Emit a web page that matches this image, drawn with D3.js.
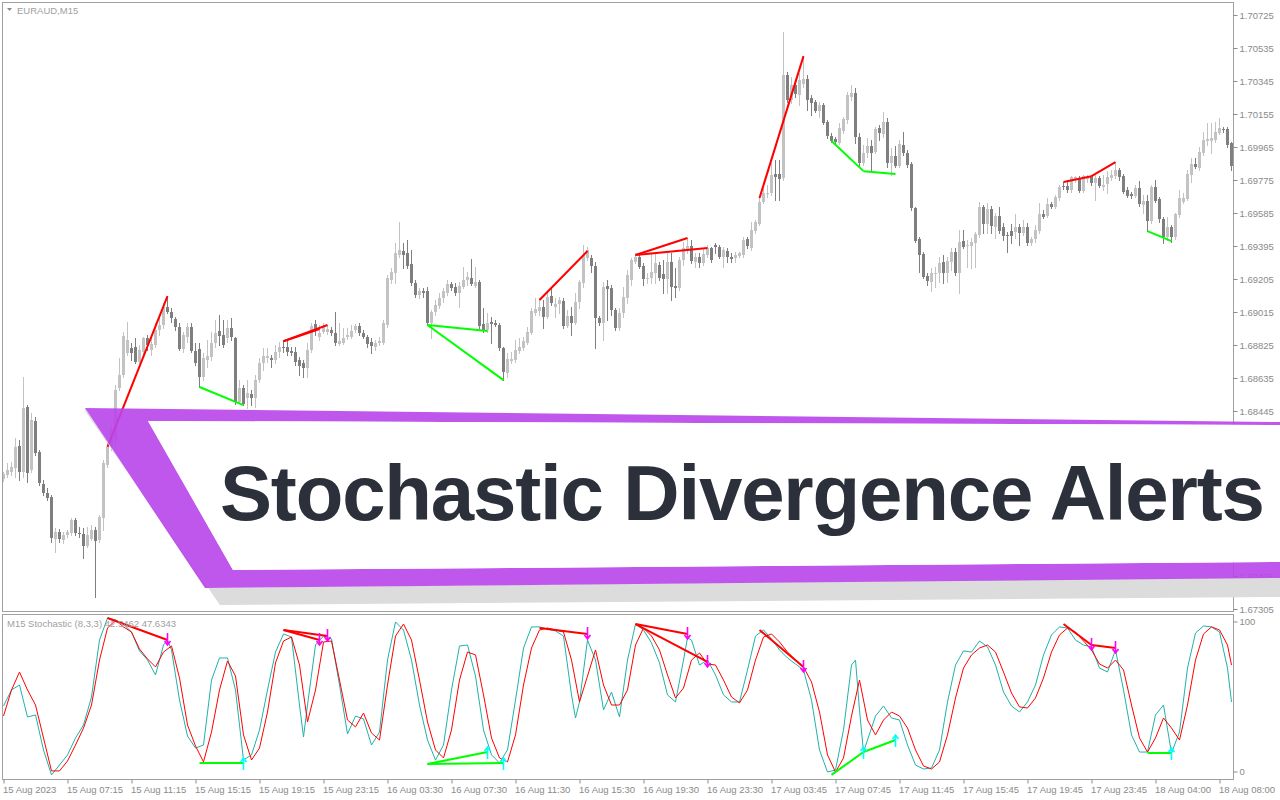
<!DOCTYPE html>
<html><head><meta charset="utf-8">
<script src="https://cdn.jsdelivr.net/npm/d3@7"></script>
<style>body{margin:0;background:#fff}svg{display:block}</style>
</head><body>
<svg id="c" width="1280" height="800"></svg>
<script>
const symbolLabel = "EURAUD,M15";
const stochLabel = "M15 Stochastic (8,3,3) 42.5462 47.6343";
const bannerText = "Stochastic Divergence Alerts";
const priceTicks = [1.70725,1.70535,1.70345,1.70155,1.69965,1.69775,1.69585,1.69395,1.69205,1.69015,1.68825,1.68635,1.68445,1.67495,1.67305];
const timeTickIndex = [0,16,32,48,64,80,96,112,128,144,160,176,192,208,224,240,256,272,288,304];
const timeLabels = ["15 Aug 2023","15 Aug 07:15","15 Aug 11:15","15 Aug 15:15","15 Aug 19:15","15 Aug 23:15","16 Aug 03:30","16 Aug 07:30","16 Aug 11:30","16 Aug 15:30","16 Aug 19:30","16 Aug 23:30","17 Aug 03:45","17 Aug 07:45","17 Aug 11:45","17 Aug 15:45","17 Aug 19:45","17 Aug 23:45","18 Aug 04:00","18 Aug 08:00"];

const open = [1.68053,1.68076,1.68093,1.68117,1.68243,1.68093,1.68468,1.68105,1.68387,1.68208,1.68024,1.67973,1.67950,1.67707,1.67747,1.67702,1.67730,1.67742,1.67817,1.67742,
1.67736,1.67667,1.67707,1.67759,1.67702,1.67829,1.68134,1.68238,1.68278,1.68577,1.68652,1.68779,1.68807,1.68813,1.68726,1.68784,1.68865,1.68796,1.68824,1.68911,
1.68940,1.69044,1.69014,1.68974,1.68929,1.68801,1.68871,1.68929,1.68790,1.68801,1.68641,1.68738,1.68756,1.68836,1.68905,1.68882,1.68865,1.68923,1.68865,1.68496,
1.68577,1.68520,1.68543,1.68520,1.68623,1.68721,1.68750,1.68750,1.68738,1.68784,1.68813,1.68813,1.68790,1.68784,1.68738,1.68721,1.68692,1.68796,1.68946,1.68871,
1.68899,1.68899,1.68911,1.68894,1.68830,1.68836,1.68871,1.68871,1.68911,1.68934,1.68894,1.68871,1.68841,1.68813,1.68836,1.68836,1.68940,1.69199,1.69239,1.69343,
1.69366,1.69355,1.69291,1.69182,1.69112,1.69135,1.69135,1.68952,1.69014,1.69049,1.69095,1.69124,1.69176,1.69159,1.69124,1.69159,1.69199,1.69210,1.69164,1.69187,
1.68946,1.68911,1.68957,1.68952,1.68940,1.68807,1.68664,1.68732,1.68738,1.68790,1.68807,1.68836,1.68894,1.69009,1.69020,1.69044,1.68986,1.69106,1.69044,1.69061,
1.69078,1.68934,1.68991,1.68952,1.69072,1.69182,1.69326,1.69326,1.69279,1.68980,1.68952,1.69164,1.69153,1.69026,1.68923,1.69009,1.69095,1.69199,1.69302,1.69332,
1.69279,1.69204,1.69210,1.69239,1.69285,1.69233,1.69204,1.69302,1.69164,1.69153,1.69314,1.69372,1.69394,1.69302,1.69332,1.69297,1.69343,1.69383,1.69400,1.69389,
1.69332,1.69366,1.69332,1.69326,1.69337,1.69343,1.69435,1.69383,1.69481,1.69521,1.69647,1.69694,1.69700,1.69809,1.69809,1.69786,1.70379,1.70235,1.70321,1.70264,
1.70327,1.70356,1.70247,1.70223,1.70172,1.70206,1.70108,1.70028,1.70011,1.69988,1.70057,1.70120,1.70253,1.70276,1.70023,1.69873,1.69930,1.69970,1.69935,1.70074,
1.70040,1.70108,1.69873,1.69912,1.69855,1.69976,1.69930,1.69867,1.69613,1.69435,1.69349,1.69221,1.69187,1.69233,1.69239,1.69302,1.69239,1.69302,1.69360,1.69239,
1.69423,1.69394,1.69394,1.69412,1.69458,1.69619,1.69521,1.69607,1.69504,1.69567,1.69504,1.69458,1.69481,1.69475,1.69504,1.69470,1.69504,1.69412,1.69435,1.69481,
1.69579,1.69567,1.69636,1.69619,1.69671,1.69740,1.69740,1.69717,1.69775,1.69786,1.69711,1.69780,1.69797,1.69758,1.69786,1.69735,1.69752,1.69786,1.69797,1.69832,
1.69797,1.69717,1.69694,1.69682,1.69729,1.69630,1.69653,1.69538,1.69735,1.69665,1.69550,1.69447,1.69504,1.69447,1.69573,1.69647,1.69665,1.69803,1.69867,1.69844,
1.69930,1.69999,1.69999,1.70005,1.70046,1.70068,1.70068,1.69988];
const high = [1.68093,1.68146,1.68151,1.68289,1.68278,1.68641,1.68479,1.68433,1.68410,1.68220,1.68047,1.68001,1.67961,1.67771,1.67765,1.67747,1.67759,1.67829,1.67829,1.67777,
1.67771,1.67777,1.67788,1.67777,1.67846,1.68163,1.68261,1.68364,1.68594,1.68750,1.68899,1.68957,1.68836,1.68865,1.68824,1.68871,1.68882,1.68882,1.68952,1.68986,
1.69067,1.69106,1.69038,1.68986,1.68952,1.68899,1.68952,1.68952,1.68836,1.68836,1.68779,1.68853,1.68899,1.68969,1.68997,1.68969,1.68969,1.68980,1.68871,1.68623,
1.68594,1.68623,1.68566,1.68652,1.68750,1.68807,1.68807,1.68767,1.68824,1.68841,1.68853,1.68853,1.68813,1.68813,1.68756,1.68738,1.68836,1.68952,1.68969,1.68940,
1.68952,1.68940,1.68929,1.69014,1.68952,1.68923,1.68923,1.68940,1.68946,1.68952,1.68911,1.68882,1.68865,1.68853,1.68871,1.68969,1.69227,1.69268,1.69412,1.69532,
1.69412,1.69429,1.69372,1.69199,1.69153,1.69153,1.69159,1.69026,1.69084,1.69124,1.69153,1.69199,1.69187,1.69182,1.69187,1.69274,1.69244,1.69320,1.69274,1.69199,
1.69038,1.69009,1.68986,1.68969,1.68952,1.68813,1.68779,1.68784,1.68853,1.68865,1.68871,1.68929,1.69038,1.69095,1.69095,1.69084,1.69124,1.69153,1.69095,1.69101,
1.69095,1.69026,1.69044,1.69124,1.69199,1.69400,1.69389,1.69343,1.69302,1.68991,1.69187,1.69199,1.69170,1.69038,1.69038,1.69159,1.69256,1.69326,1.69355,1.69355,
1.69297,1.69239,1.69355,1.69355,1.69302,1.69314,1.69355,1.69355,1.69268,1.69332,1.69417,1.69441,1.69429,1.69355,1.69355,1.69383,1.69400,1.69389,1.69412,1.69400,
1.69389,1.69383,1.69355,1.69360,1.69360,1.69447,1.69447,1.69532,1.69544,1.69671,1.69729,1.69746,1.69873,1.69890,1.69890,1.70626,1.70396,1.70368,1.70350,1.70391,
1.70488,1.70379,1.70264,1.70235,1.70223,1.70218,1.70120,1.70046,1.70023,1.70103,1.70138,1.70281,1.70321,1.70304,1.70046,1.69976,1.70017,1.70005,1.70080,1.70091,
1.70166,1.70132,1.69959,1.69970,1.70005,1.70051,1.69947,1.69878,1.69619,1.69447,1.69360,1.69239,1.69268,1.69274,1.69332,1.69343,1.69332,1.69383,1.69383,1.69487,
1.69487,1.69429,1.69441,1.69475,1.69647,1.69630,1.69642,1.69624,1.69585,1.69619,1.69527,1.69475,1.69521,1.69579,1.69521,1.69544,1.69527,1.69447,1.69515,1.69642,
1.69602,1.69671,1.69647,1.69688,1.69746,1.69763,1.69763,1.69797,1.69797,1.69797,1.69803,1.69803,1.69803,1.69803,1.69797,1.69803,1.69826,1.69832,1.69878,1.69844,
1.69809,1.69735,1.69705,1.69746,1.69769,1.69688,1.69688,1.69746,1.69775,1.69677,1.69562,1.69562,1.69515,1.69585,1.69717,1.69700,1.69832,1.69901,1.69901,1.69965,
1.70051,1.70103,1.70103,1.70108,1.70132,1.70080,1.70080,1.69993];
const low = [1.68041,1.68065,1.68076,1.68065,1.68047,1.68065,1.68035,1.68093,1.68191,1.68018,1.67961,1.67932,1.67690,1.67632,1.67690,1.67685,1.67719,1.67730,1.67730,1.67719,
1.67598,1.67662,1.67702,1.67374,1.67690,1.67759,1.68122,1.68220,1.68249,1.68566,1.68641,1.68767,1.68738,1.68721,1.68721,1.68756,1.68796,1.68767,1.68813,1.68882,
1.68923,1.69009,1.68957,1.68911,1.68796,1.68784,1.68841,1.68784,1.68709,1.68583,1.68623,1.68698,1.68738,1.68813,1.68824,1.68813,1.68841,1.68853,1.68485,1.68491,
1.68479,1.68462,1.68479,1.68468,1.68611,1.68681,1.68726,1.68698,1.68721,1.68756,1.68784,1.68767,1.68767,1.68709,1.68652,1.68641,1.68641,1.68784,1.68882,1.68853,
1.68894,1.68888,1.68882,1.68824,1.68824,1.68830,1.68859,1.68865,1.68899,1.68882,1.68865,1.68813,1.68779,1.68796,1.68824,1.68830,1.68929,1.69182,1.69182,1.69332,
1.69268,1.69268,1.69170,1.69101,1.69095,1.69101,1.68940,1.68865,1.68997,1.69038,1.69072,1.69112,1.69141,1.69112,1.69044,1.69153,1.69170,1.69170,1.69159,1.68923,
1.68899,1.68899,1.68836,1.68934,1.68796,1.68623,1.68641,1.68721,1.68726,1.68779,1.68796,1.68830,1.68888,1.68997,1.68997,1.68923,1.68980,1.69055,1.68986,1.69009,
1.68923,1.68929,1.68882,1.68946,1.69038,1.69159,1.69314,1.69244,1.68807,1.68940,1.68853,1.68969,1.68997,1.68911,1.68911,1.68986,1.69067,1.69170,1.69297,1.69268,
1.69170,1.69182,1.69182,1.69182,1.69199,1.69124,1.69124,1.69084,1.69101,1.69141,1.69285,1.69355,1.69297,1.69274,1.69274,1.69285,1.69332,1.69302,1.69355,1.69326,
1.69274,1.69302,1.69302,1.69302,1.69332,1.69332,1.69383,1.69372,1.69470,1.69515,1.69642,1.69677,1.69688,1.69659,1.69659,1.69775,1.70223,1.70218,1.70253,1.70206,
1.70310,1.70178,1.70149,1.70166,1.70138,1.70097,1.70017,1.69993,1.69988,1.69982,1.70046,1.70103,1.70235,1.69988,1.69850,1.69861,1.69907,1.69832,1.69930,1.70005,
1.70023,1.69850,1.69803,1.69850,1.69850,1.69918,1.69850,1.69602,1.69417,1.69244,1.69210,1.69170,1.69135,1.69159,1.69187,1.69182,1.69187,1.69256,1.69227,1.69124,
1.69383,1.69274,1.69268,1.69274,1.69447,1.69470,1.69470,1.69470,1.69441,1.69470,1.69429,1.69360,1.69412,1.69441,1.69400,1.69458,1.69400,1.69400,1.69417,1.69470,
1.69556,1.69562,1.69613,1.69613,1.69659,1.69723,1.69705,1.69705,1.69763,1.69705,1.69705,1.69763,1.69746,1.69659,1.69735,1.69717,1.69700,1.69775,1.69786,1.69775,
1.69700,1.69677,1.69671,1.69677,1.69624,1.69585,1.69481,1.69527,1.69647,1.69532,1.69412,1.69429,1.69417,1.69435,1.69562,1.69642,1.69659,1.69763,1.69844,1.69832,
1.69918,1.69976,1.69930,1.69993,1.70040,1.70051,1.69965,1.69832];
const close = [1.68082,1.68105,1.68122,1.68238,1.68093,1.68462,1.68088,1.68393,1.68203,1.68030,1.67973,1.67944,1.67713,1.67747,1.67707,1.67730,1.67747,1.67817,1.67742,1.67736,
1.67667,1.67730,1.67759,1.67696,1.67835,1.68146,1.68238,1.68335,1.68566,1.68652,1.68876,1.68853,1.68779,1.68726,1.68796,1.68865,1.68824,1.68830,1.68911,1.68940,
1.69044,1.69014,1.68980,1.68929,1.68801,1.68882,1.68929,1.68790,1.68721,1.68641,1.68750,1.68761,1.68836,1.68894,1.68876,1.68824,1.68923,1.68871,1.68496,1.68577,
1.68485,1.68549,1.68520,1.68623,1.68721,1.68761,1.68761,1.68738,1.68784,1.68813,1.68807,1.68784,1.68779,1.68726,1.68703,1.68692,1.68796,1.68934,1.68911,1.68894,
1.68929,1.68917,1.68894,1.68836,1.68847,1.68865,1.68882,1.68905,1.68934,1.68894,1.68871,1.68830,1.68818,1.68836,1.68847,1.68952,1.69210,1.69244,1.69355,1.69372,
1.69343,1.69279,1.69182,1.69112,1.69135,1.69124,1.68952,1.69014,1.69055,1.69095,1.69135,1.69176,1.69153,1.69124,1.69164,1.69199,1.69216,1.69176,1.69187,1.68934,
1.68911,1.68952,1.68946,1.68940,1.68807,1.68669,1.68744,1.68744,1.68796,1.68813,1.68847,1.68899,1.69020,1.69032,1.69044,1.68986,1.69101,1.69067,1.69061,1.69084,
1.68934,1.68991,1.68952,1.69072,1.69187,1.69343,1.69372,1.69279,1.68980,1.68952,1.69159,1.69147,1.69026,1.68923,1.69009,1.69101,1.69227,1.69314,1.69332,1.69274,
1.69204,1.69210,1.69244,1.69297,1.69210,1.69204,1.69302,1.69159,1.69153,1.69314,1.69383,1.69394,1.69308,1.69332,1.69297,1.69349,1.69383,1.69314,1.69389,1.69332,
1.69372,1.69332,1.69320,1.69343,1.69355,1.69429,1.69394,1.69487,1.69532,1.69647,1.69700,1.69700,1.69803,1.69792,1.69780,1.70379,1.70235,1.70321,1.70270,1.70350,
1.70356,1.70235,1.70218,1.70172,1.70206,1.70103,1.70028,1.69999,1.69993,1.70074,1.70126,1.70264,1.70276,1.70023,1.69873,1.69930,1.69970,1.69930,1.70068,1.70046,
1.70108,1.69873,1.69912,1.69855,1.69982,1.69930,1.69861,1.69613,1.69423,1.69343,1.69216,1.69193,1.69239,1.69239,1.69297,1.69239,1.69308,1.69360,1.69239,1.69417,
1.69389,1.69400,1.69417,1.69464,1.69619,1.69521,1.69607,1.69509,1.69567,1.69481,1.69452,1.69452,1.69452,1.69504,1.69470,1.69504,1.69412,1.69435,1.69487,1.69579,
1.69562,1.69636,1.69619,1.69677,1.69735,1.69735,1.69717,1.69792,1.69792,1.69711,1.69797,1.69792,1.69758,1.69786,1.69740,1.69746,1.69792,1.69803,1.69832,1.69792,
1.69705,1.69682,1.69682,1.69729,1.69636,1.69653,1.69538,1.69735,1.69653,1.69550,1.69447,1.69504,1.69447,1.69579,1.69671,1.69671,1.69809,1.69867,1.69850,1.69935,
1.70005,1.70011,1.70017,1.70051,1.70074,1.70063,1.69976,1.69855];

// Stochastic %K (main) and %D (signal)
const kIndex = [0,2,4,6,8,10,12,14,16,18,20,22,24,26,28,30,32,34,36,38,40,41,42,44,46,48,50,52,54,56,58,60,62,64,66,68,70,72,74,75,76,78,80,82,84,86,88,90,92,94,96,98,100,102,104,106,108,110,112,114,116,118,120,122,124,126,128,130,132,134,136,138,140,142,143,144,146,148,150,152,154,156,158,160,162,164,166,168,170,171,172,174,176,178,180,182,184,186,188,190,192,194,196,198,200,202,204,206,208,210,212,213,214,215,216,218,220,222,224,226,228,230,232,234,236,238,240,242,244,246,248,250,252,254,256,258,260,262,264,266,268,270,272,274,276,278,280,282,284,286,288,290,292,294,296,298,300,302,304,306,307];
const stochK = [44.4,54.4,57.5,37.5,38.8,16.9,1.3,7.5,13.8,24.4,32.5,50,85.6,99.4,98.1,95.6,90.6,78.8,73.1,63.8,82.5,85.6,79.4,48.1,25.6,18.1,20,60.6,74.4,74.4,54.4,10.6,13.8,29.4,54.4,78.1,89.4,87.5,45,25,45,82.5,88.1,86.3,57.5,26.9,38.1,36.3,20,28.1,73.1,96.9,91.9,73.1,45,23.1,10.6,20,54.4,81.9,82.5,63.1,29.4,13.8,8.8,16.9,48.1,80.6,93.8,93.8,92.5,91.3,88.1,51.3,36.9,46.9,85.6,73.1,41.9,53.1,37.5,73.1,95.6,91.9,83.8,71.3,51.3,46.9,73.1,87,85.6,70,73.1,63.8,51.3,46.9,46.9,66.9,88.1,91.9,86.3,79.4,74.4,70.6,66.9,48.1,16.9,3.1,4.4,29.4,70,73.1,41.9,15.6,23.1,38.1,44.4,36.9,35.6,20,7.5,5,5.6,16.9,46.9,70,78.8,78.1,85,81.3,70,53.1,44.4,40.6,46.9,57.5,76.3,88.8,93.8,93.1,85.6,82.5,81.3,68.1,65.6,79.4,54.4,26.3,15.6,15.6,38.8,45,15,28.1,68.1,90,94.4,93.8,90.6,68.1,46.9];
const dIndex = [0,2,4,6,8,10,12,14,16,18,20,22,24,26,28,30,32,34,36,38,40,42,44,46,48,50,52,54,56,58,60,62,64,66,68,70,72,74,76,78,80,82,84,86,88,90,92,94,96,98,100,102,104,106,108,110,112,114,116,118,120,122,124,126,128,130,132,134,136,138,140,142,144,146,148,150,152,154,156,158,160,162,164,166,168,170,172,174,176,178,180,182,184,186,188,190,192,194,196,198,200,202,204,206,208,210,212,214,216,218,220,222,224,226,228,230,232,234,236,238,240,242,244,246,248,250,252,254,256,258,260,262,264,266,268,270,272,274,276,278,280,282,284,286,288,290,292,294,296,298,300,302,304,306,307];
const stochD = [38.1,54.4,65.6,54.4,45,24.4,3.8,3.8,10,20,30.6,45,73.1,93.1,98.1,93.8,90.6,80,73.8,68.8,78.1,81.9,61.9,32.5,19.4,9.4,28.1,54.4,72.5,63.1,26.3,10.6,18.1,40.6,71.3,85,87.5,70,34.4,54.4,84.4,85,60.6,35.6,31.3,40,27.5,23.1,57.5,88.1,95.6,85.6,60.6,34.4,16.9,11.9,29.4,60.6,78.1,76.3,51.3,24.4,11.9,9.4,26.3,57.5,80.6,91.9,93.1,91.9,90.6,73.1,46.9,63.1,79.4,57.5,45,45,54.4,82.5,93.1,88.1,79.4,63.8,49.4,55.6,73.1,77.5,70.6,70,60.6,50,46.3,54.4,73.1,87.5,89.4,84.4,78.1,73.1,68.8,59.4,40.6,13.8,3.1,11.9,38.1,60.6,35.6,26.3,35.6,40.6,38.1,30.6,16.9,6.9,5,9.4,26.3,49.4,68.1,76.3,80.6,82.5,78.1,65.6,52.5,43.8,43.1,49.4,61.9,78.1,88.8,93.1,90.6,85,79.4,70.6,68.1,73.1,66.9,45,24.4,15.6,24.4,36.9,30.6,23.1,45,73.1,89.4,93.8,91.9,82.5,70];

// divergence lines: [startIndex, startValue, endIndex, endValue]
const priceBearDiv = [[26,1.68238,41,1.69106],[70,1.68847,79,1.68917],[70,1.68847,81,1.68940],[134,1.69084,146,1.69366],[158,1.69343,171,1.69441],[158,1.69343,176,1.69383],[189,1.69671,200,1.70488],[265,1.69763,272,1.69797],[272,1.69797,278,1.69878]];
const priceBullDiv = [[49,1.68583,60,1.68479],[106,1.68940,121,1.68905],[106,1.68940,125,1.68623],[207,1.69999,215,1.69826],[215,1.69826,223,1.69809],[286,1.69481,292,1.69423]];
const stochBearDiv = [[26,99.4,41,85.6],[70,91.9,79,85.6],[70,91.9,81,88.1],[134,93.1,146,89.4],[158,95.6,171,89.4],[158,95.6,176,71.9],[189,91.9,200,68.8],[265,95.6,272,82.5],[272,82.5,278,80.6]];
const stochBullDiv = [[49,8.8,60,8.8],[106,8.1,121,15.6],[106,8.1,125,8.8],[207,1.3,215,15.6],[215,15.6,223,23.1],[286,15,292,15]];

const svg = d3.select('#c');
const x = d3.scaleLinear().domain([0,307]).range([3.5,1231.5]);
const y = d3.scaleLinear().domain([1.67305,1.70725]).range([609,15]);
const ys = d3.scaleLinear().domain([0,100]).range([777,617]);
const axisFont = '"Liberation Sans", Arial, sans-serif';
const gray = '#8a8a8a';

const defs = svg.append('defs');
defs.append('clipPath').attr('id','mainClip').append('rect').attr('x',3).attr('y',3).attr('width',1230).attr('height',608);
defs.append('clipPath').attr('id','subClip').append('rect').attr('x',3).attr('y',615).attr('width',1230).attr('height',164);

// frames
svg.append('rect').attr('x',2.5).attr('y',2.5).attr('width',1231).attr('height',609).attr('fill','none').attr('stroke','#a0a0a0').attr('shape-rendering','crispEdges');
svg.append('rect').attr('x',2.5).attr('y',614.5).attr('width',1231).attr('height',165).attr('fill','none').attr('stroke','#a0a0a0').attr('shape-rendering','crispEdges');

// candles
const idx = d3.range(open.length);
const cg = svg.append('g').attr('clip-path','url(#mainClip)').attr('shape-rendering','crispEdges');
const col = i => close[i] >= open[i] ? '#c3c3c3' : '#7f7f7f';
cg.selectAll('line.w').data(idx).join('line')
  .attr('x1',i=>x(i)).attr('x2',i=>x(i))
  .attr('y1',i=>Math.round(y(high[i]))).attr('y2',i=>Math.round(y(low[i]))+1)
  .attr('stroke',col).attr('stroke-width',1);
cg.selectAll('rect.b').data(idx).join('rect')
  .attr('x',i=>x(i)-1.5).attr('width',3)
  .attr('y',i=>Math.round(y(Math.max(open[i],close[i]))))
  .attr('height',i=>Math.max(1,Math.round(Math.abs(y(open[i])-y(close[i])))))
  .attr('fill',col);

// price divergence lines
const dg = svg.append('g').attr('clip-path','url(#mainClip)');
dg.selectAll('line.r').data(priceBearDiv).join('line')
  .attr('x1',d=>x(d[0])).attr('y1',d=>y(d[1])).attr('x2',d=>x(d[2])).attr('y2',d=>y(d[3]))
  .attr('stroke','#ff0000').attr('stroke-width',2);
dg.selectAll('line.g').data(priceBullDiv).join('line')
  .attr('x1',d=>x(d[0])).attr('y1',d=>y(d[1])).attr('x2',d=>x(d[2])).attr('y2',d=>y(d[3]))
  .attr('stroke','#00ff00').attr('stroke-width',2);

// price axis
const pa = svg.append('g').attr('transform','translate(1233.5,0)')
  .call(d3.axisRight(y).tickValues(priceTicks).tickSize(4).tickPadding(2).tickFormat(d=>d.toFixed(5)));
pa.select('.domain').remove();
pa.selectAll('line').attr('stroke',gray);
pa.selectAll('text').attr('fill',gray).style('font-family',axisFont).style('font-size','9.5px');

// symbol label
svg.append('path').attr('d','M7,8 L12,8 L9.5,11 Z').attr('fill','#8a8a8a');
svg.append('text').attr('x',17).attr('y',14).text(symbolLabel).attr('fill','#a0a0a0').style('font-family',axisFont).style('font-size','9.5px');

// stochastic
const sg = svg.append('g').attr('clip-path','url(#subClip)');
svg.append('text').attr('x',7).attr('y',627).text(stochLabel).attr('fill','#a0a0a0').style('font-family',axisFont).style('font-size','9.5px');
const kLine = d3.line().x((d,i)=>x(kIndex[i])).y(d=>ys(d));
const dLine = d3.line().x((d,i)=>x(dIndex[i])).y(d=>ys(d));
sg.append('path').attr('d',kLine(stochK)).attr('fill','none').attr('stroke','#20b2aa').attr('stroke-width',1);
sg.append('path').attr('d',dLine(stochD)).attr('fill','none').attr('stroke','#ff0000').attr('stroke-width',1);
sg.selectAll('line.r').data(stochBearDiv).join('line')
  .attr('x1',d=>x(d[0])).attr('y1',d=>ys(d[1])).attr('x2',d=>x(d[2])).attr('y2',d=>ys(d[3]))
  .attr('stroke','#ff0000').attr('stroke-width',2);
sg.selectAll('line.g').data(stochBullDiv).join('line')
  .attr('x1',d=>x(d[0])).attr('y1',d=>ys(d[1])).attr('x2',d=>x(d[2])).attr('y2',d=>ys(d[3]))
  .attr('stroke','#00ff00').attr('stroke-width',2);
const downArrow = (cx,cy)=>`M${cx},${cy-7}V${cy+5}M${cx-3},${cy+1}L${cx},${cy+5}L${cx+3},${cy+1}`;
const upArrow = (cx,cy)=>`M${cx},${cy+7}V${cy-5}M${cx-3},${cy-1}L${cx},${cy-5}L${cx+3},${cy-1}`;
sg.selectAll('path.da').data(stochBearDiv).join('path')
  .attr('d',d=>downArrow(x(d[2]),ys(d[3]))).attr('fill','none').attr('stroke','#ff00ff').attr('stroke-width',1.6);
sg.selectAll('path.ua').data(stochBullDiv).join('path')
  .attr('d',d=>upArrow(x(d[2]),ys(d[3]))).attr('fill','none').attr('stroke','#00ffff').attr('stroke-width',1.6);

const sa = svg.append('g').attr('transform','translate(1233.5,0)')
  .call(d3.axisRight(ys).tickValues([0,100]).tickSize(4).tickPadding(2).tickFormat(d=>String(d)));
sa.select('.domain').remove();
sa.selectAll('line').attr('stroke',gray);
sa.selectAll('.tick').attr('transform',d=>`translate(0,${d===100?ys(d)+5:ys(d)-5})`);
sa.selectAll('text').attr('fill',gray).style('font-family',axisFont).style('font-size','9.5px');

// time axis
const ta = svg.append('g').attr('transform','translate(0,779.5)')
  .call(d3.axisBottom(x).tickValues(timeTickIndex).tickSize(4).tickPadding(3).tickFormat((d,i)=>timeLabels[i]));
ta.select('.domain').remove();
ta.selectAll('line').attr('stroke',gray);
ta.selectAll('text').attr('fill',gray).attr('text-anchor','start').attr('dx',-1).style('font-family',axisFont).style('font-size','9.5px');

// banner
const bg = svg.append('g');
bg.append('path').attr('d','M85,408 L205,588 L1280,577 L1280,597 L220,605 L85,411 Z').attr('fill','#dcdcdc');
bg.append('path').attr('d','M85,408 L1280,422 L1280,578 L205,588 Z M148,421 L233,570 L1280,562 L1280,425 Z')
  .attr('fill','#b945ea').attr('fill-opacity',0.9).attr('fill-rule','evenodd');
bg.append('path').attr('d','M148,421 L1280,425 L1280,562 L233,570 Z').attr('fill','#ffffff');
const bt = bg.append('text').attr('x',220).attr('y',520).text(bannerText)
  .attr('fill','#2b303a').style('font-family',axisFont).style('font-weight','bold').style('font-size','78px');
const natural = bt.node().getComputedTextLength();
bt.style('letter-spacing', ((1045 - natural) / (bannerText.length - 1)).toFixed(2) + 'px');
</script>
</body></html>
